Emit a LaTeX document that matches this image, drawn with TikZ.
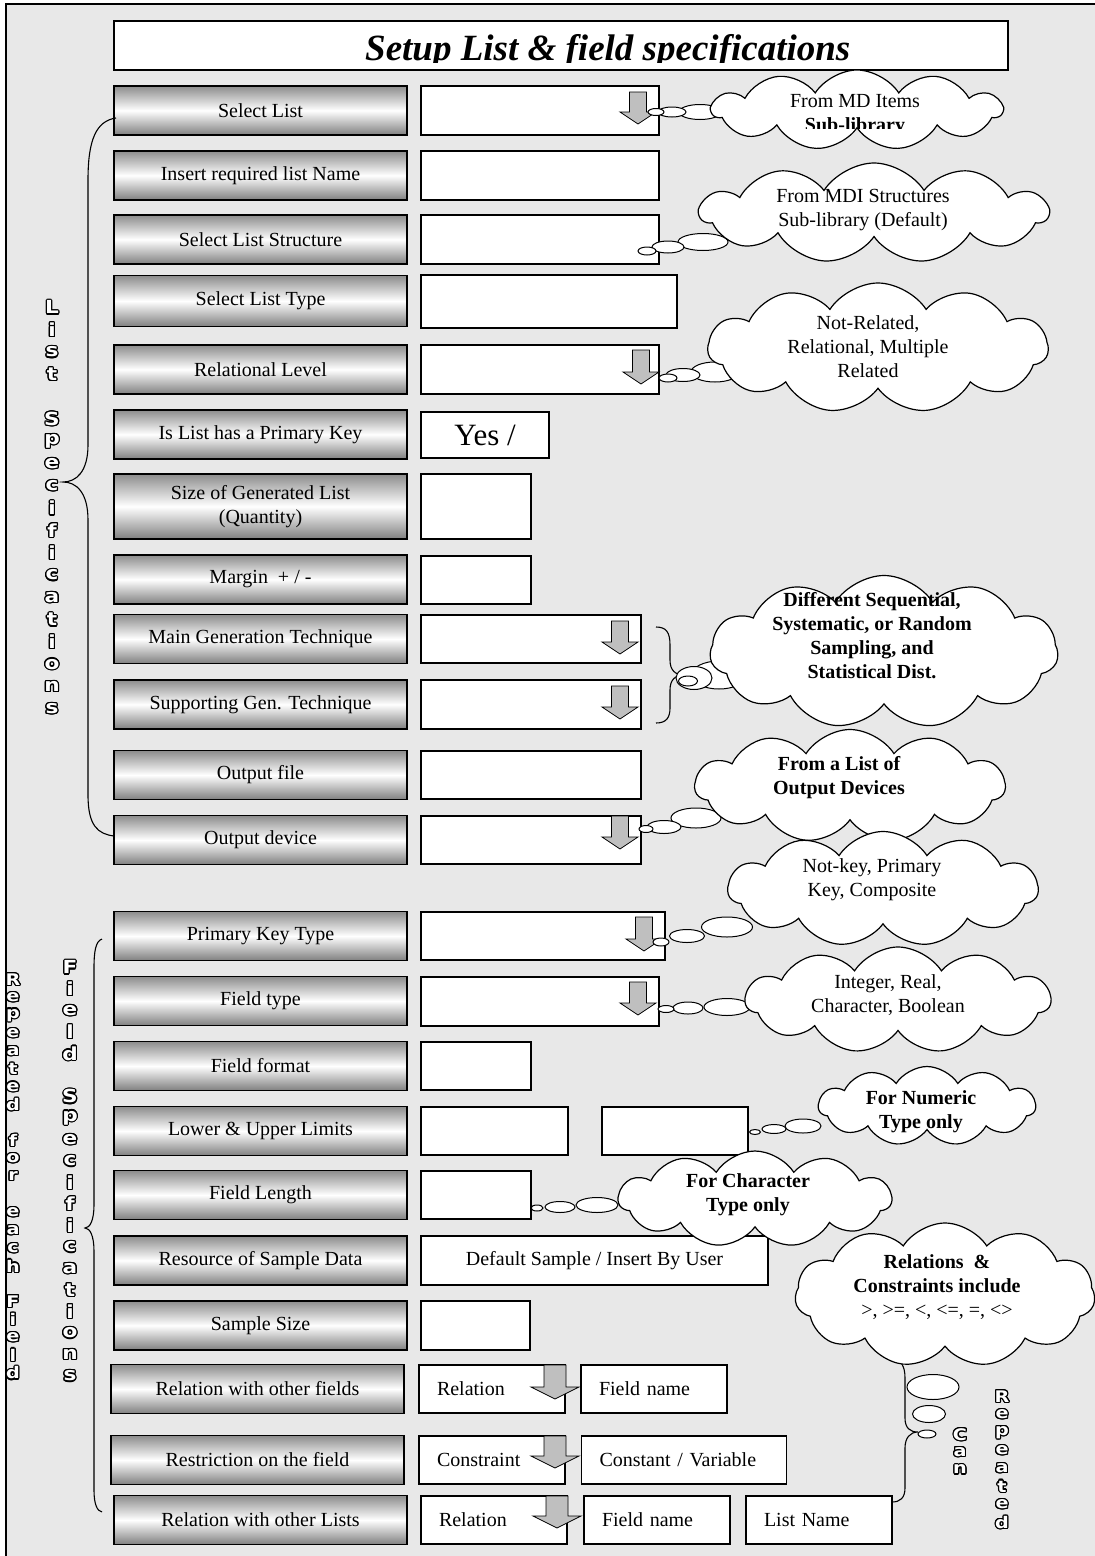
\documentclass[tikz,border=0pt]{standalone}
\usepackage{fontspec}
\setmainfont{Liberation Serif}
\newfontfamily\outfont{DejaVu Sans}[FakeStretch=1.2]
\usepackage{contour}
\contourlength{1.2pt}
\usetikzlibrary{shapes.symbols, calc}

\newcommand{\lbl}{\fontsize{20}{24}\selectfont}
\newcommand{\olet}[1]{\contour{black}{\textcolor{white}{#1}}}
% drop-down arrow: x, top, tip, shaft half width, head half width
\newcommand{\droparrow}[5]{%
  \draw[drop_arrow] ({#1-#4},#2) -- ({#1+#4},#2) -- ({#1+#4},{#3-12}) -- ({#1+#5},{#3-12})
    -- (#1,#3) -- ({#1-#5},{#3-12}) -- ({#1-#4},{#3-12}) -- cycle;}
% thought bubble: x, y, width, height
\newcommand{\bubble}[4]{\draw[tail_bubble] (#1,#2) ellipse [x radius={#3*0.5pt}, y radius={#4*0.5pt}];}

\begin{document}
\begin{tikzpicture}[
    x=1pt, y=-1pt,
    grey_box/.style={draw, line width=1.6pt, top color=black!45, bottom color=black!50,
        middle color=white, minimum width=293pt, minimum height=49pt, inner sep=0pt,
        align=center, font=\lbl},
    white_box/.style={draw, line width=1.2pt, fill=white, inner sep=0pt,
        minimum height=48pt, font=\lbl},
    left_text/.style={align=left, inner xsep=18pt},
    drop_arrow/.style={draw=black, fill=black!25, line width=0.8pt},
    tail_bubble/.style={draw, fill=white, line width=1pt},
    think_cloud/.style={cloud, cloud puffs=11, cloud puff arc=115, cloud ignores aspect,
        draw, fill=white, line width=1.2pt, inner sep=0pt},
    cloud_text/.style={align=center, font=\lbl, inner sep=0pt},
    cloud_bold/.style={cloud_text, font=\lbl\bfseries},
    brace_line/.style={line width=1.1pt},
    vlet/.style={font={\outfont\bfseries\fontsize{18}{18}\selectfont}, inner sep=0pt},
    vlet_small/.style={font={\outfont\bfseries\fontsize{16}{16}\selectfont}, inner sep=0pt}
]
\useasboundingbox (0,0) rectangle (1095,1556);

% ---------------- frame ----------------
\draw[fill=black!9, line width=1.2pt] (6,4) rectangle (1110,1570);

% ---------------- title ----------------
\node[white_box, minimum width=894pt, minimum height=49pt] (title) at (561,45.5) {};
\begin{scope}
    \clip (115,22) rectangle (1007,62);
    \node[font=\fontsize{37}{37}\selectfont\bfseries\itshape, anchor=base west, inner sep=0pt]
        (titletext) at (365,60) {Setup List \& field specifications};
\end{scope}

% ---------------- list specification rows ----------------
\node[grey_box] (r1) at (260.5,110.5) {Select List};
\node[grey_box] (r2) at (260.5,175.5) {Insert required list Name};
\node[grey_box] (r3) at (260.5,239.5) {Select List Structure};
\node[grey_box, minimum height=51pt] (r4) at (260.5,301) {Select List Type};
\node[grey_box] (r5) at (260.5,369.5) {Relational Level};
\node[grey_box] (r6) at (260.5,434.5) {Is List has a Primary Key};
\node[grey_box, minimum height=65pt] (r7) at (260.5,506.5) {Size of Generated List\\(Quantity)};
\node[grey_box] (r8) at (260.5,579.5) {Margin\ \ + / -};
\node[grey_box] (r9) at (260.5,639) {Main Generation Technique};
\node[grey_box] (r10) at (260.5,704.5) {Supporting Gen. Technique};
\node[grey_box] (r11) at (260.5,775) {Output file};
\node[grey_box] (r12) at (260.5,840) {Output device};

% ---------------- field specification rows ----------------
\node[grey_box] (r13) at (260.5,936) {Primary Key Type};
\node[grey_box] (r14) at (260.5,1001) {Field type};
\node[grey_box] (r15) at (260.5,1066) {Field format};
\node[grey_box] (r16) at (260.5,1131) {Lower \& Upper Limits};
\node[grey_box] (r17) at (260.5,1195) {Field Length};
\node[grey_box] (r18) at (260.5,1260.5) {Resource of Sample Data};
\node[grey_box] (r19) at (260.5,1325.5) {Sample Size};
\node[grey_box] (r20) at (257.5,1389) {Relation with other fields};
\node[grey_box] (r21) at (257.5,1460) {Restriction on the field};
\node[grey_box] (r22) at (260.5,1520) {Relation with other Lists};

% ---------------- input boxes ----------------
\node[white_box, minimum width=238pt, minimum height=49pt] (w1) at (540,110.5) {};
\node[white_box, minimum width=238pt, minimum height=49pt] (w2) at (540,175.5) {};
\node[white_box, minimum width=238pt, minimum height=49pt] (w3) at (540,239.5) {};
\node[white_box, minimum width=256pt, minimum height=53pt] (w4) at (549,301.5) {};
\node[white_box, minimum width=238pt, minimum height=49pt] (w5) at (540,369.5) {};
\node[white_box, minimum width=128pt, minimum height=46pt,
      font=\fontsize{31}{31}\selectfont] (w6) at (485,435) {Yes /};
\node[white_box, minimum width=110pt, minimum height=65pt] (w7) at (476,506.5) {};
\node[white_box, minimum width=110pt] (w8) at (476,580) {};
\node[white_box, minimum width=220pt] (w9) at (531,639) {};
\node[white_box, minimum width=220pt, minimum height=49pt] (w10) at (531,704.5) {};
\node[white_box, minimum width=220pt] (w11) at (531,775) {};
\node[white_box, minimum width=220pt] (w12) at (531,840) {};
\node[white_box, minimum width=244pt] (w13) at (543,936) {};
\node[white_box, minimum width=238pt, minimum height=49pt] (w14) at (540,1001.5) {};
\node[white_box, minimum width=110pt] (w15) at (476,1066) {};
\node[white_box, minimum width=147pt] (w16a) at (494.5,1131) {};
\node[white_box, minimum width=146pt] (w16b) at (675,1131) {};
\node[white_box, minimum width=110pt] (w17) at (476,1195) {};
\node[white_box, minimum width=347pt, minimum height=49pt] (w18) at (594.5,1260.5)
    {Default Sample / Insert By User};
\node[white_box, minimum width=109pt, minimum height=49pt] (w19) at (475.5,1325.5) {};
\node[white_box, left_text, text width=110pt] (w20a) at (492,1389) {Relation};
\node[white_box, left_text, text width=110pt] (w20b) at (654,1389) {Field name};
\node[white_box, left_text, text width=110pt] (w21a) at (492,1460) {Constraint};
\node[white_box, left_text, text width=169pt] (w21b) at (684,1460) {Constant / Variable};
\node[white_box, left_text, text width=110pt] (w22a) at (494,1520) {Relation};
\node[white_box, left_text, text width=110pt] (w22b) at (657,1520) {Field name};
\node[white_box, left_text, text width=110pt] (w22c) at (819,1520) {List Name};

% ---------------- drop-down arrows ----------------
\droparrow{638}{92}{124}{8.5}{18}
\droparrow{641}{350}{384}{8.5}{18}
\droparrow{620}{621}{654}{8.5}{18}
\droparrow{620}{686}{719}{8.5}{18}
\droparrow{620}{816}{849}{8.5}{18}
\droparrow{644}{917}{951}{8.5}{18}
\droparrow{638}{982}{1015}{8.5}{18}
\droparrow{555}{1365}{1399}{11}{24}
\droparrow{555}{1436}{1468}{11}{24}
\droparrow{557}{1496}{1528}{11}{24}

% ---------------- braces ----------------
\draw[brace_line] (116,118) .. controls (96,121) and (88,140) .. (88,180) -- (88,445)
    .. controls (88,472) and (76,482) .. (63,482) .. controls (76,482) and (88,492) .. (88,520)
    -- (88,795) .. controls (88,826) and (98,834) .. (114,836);
\draw[brace_line] (102,939) .. controls (96,941) and (94,950) .. (94,968) -- (94,1205)
    .. controls (94,1220) and (90,1228) .. (85,1228) .. controls (90,1228) and (94,1236) .. (94,1251)
    -- (94,1490) .. controls (94,1504) and (97,1511) .. (102,1512);
\draw[brace_line] (656,627) .. controls (666,627) and (670,632) .. (670,645) -- (670,660)
    .. controls (670,670) and (675,675) .. (684,675) .. controls (675,675) and (670,680) .. (670,690)
    -- (670,708) .. controls (670,718) and (666,723) .. (656,723);
\draw[brace_line] (893,1358) .. controls (901,1360) and (905,1366) .. (905,1378) -- (905,1418)
    .. controls (905,1428) and (910,1432) .. (918,1432) .. controls (910,1432) and (905,1438) .. (905,1448)
    -- (905,1488) .. controls (905,1498) and (900,1502) .. (892,1502);

% ---------------- thought bubbles ----------------
\bubble{700}{112}{42}{15} \bubble{672}{112}{28}{10} \bubble{656}{112}{16}{7}
\bubble{703}{242}{50}{17} \bubble{668}{247}{32}{12} \bubble{647}{251}{18}{8}
\bubble{715}{372}{48}{20} \bubble{683}{375}{34}{13} \bubble{668}{378}{18}{8}
\bubble{719}{675}{55}{28} \bubble{694}{678}{36}{23} \bubble{688}{681}{19}{10}
\bubble{696}{818}{50}{20} \bubble{664}{827}{34}{13} \bubble{646}{829}{14}{7}
\bubble{727}{927}{51}{20} \bubble{687}{936}{35}{13} \bubble{661}{942}{16}{8}
\bubble{727}{1007}{46}{17} \bubble{688}{1008}{30}{12} \bubble{666}{1009}{16}{7}
\bubble{803}{1126}{36}{14} \bubble{774}{1129}{24}{9} \bubble{755}{1132}{11}{5}
\bubble{597}{1205}{42}{15} \bubble{560}{1207}{30}{11} \bubble{537}{1208}{12}{6}
\bubble{933}{1387}{52}{25} \bubble{929}{1414}{33}{17} \bubble{927}{1434}{18}{8}

% ---------------- clouds ----------------
\node[think_cloud, minimum width=290pt, minimum height=80pt] (c1) at (857,110) {};
\begin{scope}
    \clip (700,60) rectangle (1010,128);
    \node[cloud_text, anchor=base] (c1t) at (855,131) {From MD Items\\\textbf{Sub-library}};
\end{scope}
\node[think_cloud, minimum width=348pt, minimum height=100pt] (c2) at (874,213) {};
\node[cloud_text] (c2t) at (863,210) {From MDI Structures\\Sub-library (Default)};
\node[think_cloud, minimum width=340pt, minimum height=130pt] (c3) at (878,348) {};
\node[cloud_text] (c3t) at (868,347) {Not-Related,\\Relational, Multiple\\Related};
\node[think_cloud, minimum width=348pt, minimum height=153pt] (c4) at (884,652) {};
\node[cloud_bold] (c4t) at (872,636)
    {Different Sequential,\\Systematic, or Random\\Sampling, and\\Statistical Dist.};
\node[think_cloud, minimum width=310pt, minimum height=113pt] (c5) at (850,786) {};
\node[cloud_bold] (c5t) at (839,778) {From a List of\\Output Devices};
\node[think_cloud, minimum width=310pt, minimum height=115pt] (c6) at (883,889) {};
\node[cloud_text] (c6t) at (872,880) {Not-key, Primary\\Key, Composite};
\node[think_cloud, minimum width=305pt, minimum height=106pt] (c7) at (898,1000) {};
\node[cloud_text] (c7t) at (888,995) {Integer, Real,\\Character, Boolean};
\node[think_cloud, minimum width=217pt, minimum height=79pt] (c8) at (927,1106) {};
\node[cloud_bold] (c8t) at (921,1112) {For Numeric\\Type only};
\node[think_cloud, minimum width=273pt, minimum height=96pt] (c9) at (755,1199) {};
\node[cloud_bold] (c9t) at (748,1195) {For Character\\Type only};
\node[think_cloud, minimum width=300pt, minimum height=144pt] (c10) at (945,1295) {};
\node[cloud_text] (c10t) at (937,1287)
    {\textbf{Relations\ \ \&}\\\textbf{Constraints include}\\>, >=, <, <=, =, <>};

% ---------------- vertical outline labels ----------------
\foreach \ch [count=\i from 0] in {L,i,s,t}
    \node[vlet] (lsa\i) at (52,{308+22.3*\i}) {\olet{\ch}};
\foreach \ch [count=\i from 0] in {S,p,e,c,i,f,i,c,a,t,i,o,n,s}
    \node[vlet] (lsb\i) at (52,{419.5+22.3*\i}) {\olet{\ch}};
\foreach \ch [count=\i from 0] in {F,i,e,l,d}
    \node[vlet] (fsa\i) at (70,{968+21.5*\i}) {\olet{\ch}};
\foreach \ch [count=\i from 0] in {S,p,e,c,i,f,i,c,a,t,i,o,n,s}
    \node[vlet] (fsb\i) at (70,{1097+21.5*\i}) {\olet{\ch}};
\foreach \ch [count=\i from 0] in {R,e,p,e,a,t,e,d}
    \node[vlet_small] (rpa\i) at (13,{980+17.9*\i}) {\olet{\ch}};
\foreach \ch [count=\i from 0] in {f,o,r}
    \node[vlet_small] (rpb\i) at (13,{1141+17.9*\i}) {\olet{\ch}};
\foreach \ch [count=\i from 0] in {e,a,c,h}
    \node[vlet_small] (rpc\i) at (13,{1213+17.9*\i}) {\olet{\ch}};
\foreach \ch [count=\i from 0] in {F,i,e,l,d}
    \node[vlet_small] (rpd\i) at (13,{1302+17.9*\i}) {\olet{\ch}};
\foreach \ch [count=\i from 0] in {C,a,n}
    \node[vlet_small] (can\i) at (960,{1435+17.5*\i}) {\olet{\ch}};
\foreach \ch [count=\i from 0] in {R,e,p,e,a,t,e,d}
    \node[vlet_small] (rep\i) at (1002,{1397+18*\i}) {\olet{\ch}};

\end{tikzpicture}
\end{document}
